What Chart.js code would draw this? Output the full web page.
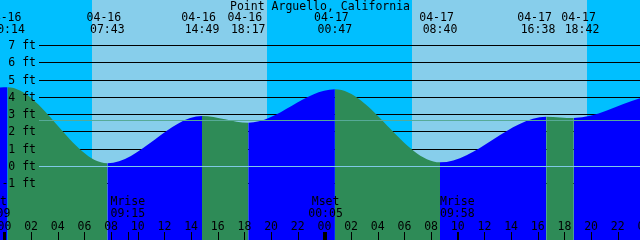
<!DOCTYPE html>
<html>
<head>
<meta charset="utf-8">
<script src="https://cdn.jsdelivr.net/npm/chart.js@4/dist/chart.umd.min.js"></script>
<style>
html,body{margin:0;padding:0;background:#ffffff;overflow:hidden}
#wrap{position:relative;width:640px;height:240px}
canvas{display:block}
</style>
</head>
<body>
<div id="wrap"><canvas id="c" width="640" height="240"></canvas></div>
<script>
// ---------- data ----------
const title = 'Point Arguello, California';

// tide extremes (high / low)
const tideDates   = ['04-16', '04-16', '04-16', '04-16', '04-17', '04-17', '04-17', '04-17'];
const tideTimes   = ['00:14', '07:43', '14:49', '18:17', '00:47', '08:40', '16:38', '18:42'];
const tideHeights = [4.59, 0.19, 2.93, 2.54, 4.48, 0.24, 2.89, 2.81];

// visible time window and the water level at its two edges
const windowDates = ['04-15', '04-17'];
const windowTimes = ['23:40', '23:40'];
const edgeHeights = [4.58, 3.95];

// sun (day shading)
const sunriseDates = ['04-16', '04-17'];
const sunriseTimes = ['06:33', '06:32'];
const sunsetDates  = ['04-16', '04-17'];
const sunsetTimes  = ['19:40', '19:41'];

// moon events
const moonLabels = ['Mset', 'Mrise', 'Mset', 'Mrise'];
const moonDates  = ['04-15', '04-16', '04-17', '04-17'];
const moonTimes  = ['23:09', '09:15', '00:05', '09:58'];

// axis ticks
const hourTickLabels = ['00','02','04','06','08','10','12','14','16','18','20','22',
                        '00','02','04','06','08','10','12','14','16','18','20','22','00'];
const heightTicks = [-1, 0, 1, 2, 3, 4, 5, 6, 7];
const heightUnit = 'ft';
const meanSeaLevel = 2.67;
const datumLevel = 0;

// y range shown (feet)
const yMin = -4.261;
const yMax = 9.652;

// ---------- helpers ----------
function toHours(date, time) {
  const day = parseInt(date.slice(3), 10) - 16;
  const [hh, mm] = time.split(':').map(Number);
  return day * 24 + hh + mm / 60;
}

const xMin = toHours(windowDates[0], windowTimes[0]);
const xMax = toHours(windowDates[1], windowTimes[1]);

const points = [{x: xMin, y: edgeHeights[0]}];
tideTimes.forEach((t, i) => points.push({x: toHours(tideDates[i], t), y: tideHeights[i]}));
points.push({x: xMax, y: edgeHeights[1]});

const COL = {
  night: '#00BFFF',
  day: '#87CEEB',
  flood: '#0000FF',
  ebb: '#2E8B57',
  datum: '#7FC9E6',
  msl: '#56AA97',
  text: '#000000'
};
const FONT = '11.5px "DejaVu Sans Mono", "Liberation Mono", monospace';
const LINE_START = 39;

const tidePlugin = {
  id: 'tidePlugin',
  beforeDatasetsDraw(chart) {
    const ctx = chart.ctx;
    const xs = chart.scales.x, ys = chart.scales.y;
    const W = chart.width, H = chart.height;
    ctx.save();
    ctx.fillStyle = COL.night;
    ctx.fillRect(0, 0, W, H);
    ctx.fillStyle = COL.day;
    for (let i = 0; i < sunriseTimes.length; i++) {
      const a = Math.round(xs.getPixelForValue(toHours(sunriseDates[i], sunriseTimes[i])));
      const b = Math.round(xs.getPixelForValue(toHours(sunsetDates[i], sunsetTimes[i])));
      ctx.fillRect(a, 0, b - a, H);
    }
    ctx.fillStyle = '#000000';
    heightTicks.forEach(v => {
      const row = Math.floor(ys.getPixelForValue(v));
      ctx.fillRect(LINE_START, row, W - LINE_START, 1);
    });
    ctx.restore();
  },
  afterDatasetsDraw(chart) {
    const ctx = chart.ctx;
    const xs = chart.scales.x, ys = chart.scales.y;
    const W = chart.width, H = chart.height;
    ctx.save();
    // datum and mean sea level lines
    ctx.fillStyle = COL.msl;
    ctx.fillRect(LINE_START, Math.floor(ys.getPixelForValue(meanSeaLevel)), W - LINE_START, 1);
    ctx.fillStyle = COL.datum;
    ctx.fillRect(LINE_START, Math.floor(ys.getPixelForValue(datumLevel)), W - LINE_START, 1);

    ctx.font = FONT;
    ctx.fillStyle = COL.text;
    ctx.textBaseline = 'alphabetic';

    // height labels
    ctx.textAlign = 'right';
    heightTicks.forEach(v => {
      const row = Math.floor(ys.getPixelForValue(v));
      ctx.fillText(v + ' ' + heightUnit, 36, row + 4);
    });

    // title
    ctx.textAlign = 'center';
    ctx.fillText(title, W / 2, 10);

    // tide event labels (pushed apart when they would collide)
    const cx = tideTimes.map((t, i) => xs.getPixelForValue(toHours(tideDates[i], t)));
    const minSep = 44;
    for (let i = 0; i < cx.length - 1; i++) {
      const d = cx[i + 1] - cx[i];
      if (d < minSep) {
        const s = (minSep - d) / 2;
        cx[i] -= s;
        cx[i + 1] += s;
      }
    }
    tideTimes.forEach((t, i) => {
      ctx.fillText(tideDates[i] + ' ', cx[i], 21);
      ctx.fillText(t, cx[i], 33);
    });

    // moon events
    moonTimes.forEach((t, i) => {
      const px = xs.getPixelForValue(toHours(moonDates[i], t));
      ctx.fillText(moonLabels[i], px, 205);
      ctx.fillText(t, px, 217);
      ctx.fillRect(Math.round(px), 232, 1, 8);
    });

    // hour ticks and labels
    hourTickLabels.forEach((lab, i) => {
      const h = i * 2;
      const px = xs.getPixelForValue(h);
      ctx.fillText(lab, px, 230);
      if (h % 24 === 0) {
        ctx.fillRect(Math.round(px) - 1, 232, 3, 8);
      } else {
        ctx.fillRect(Math.round(px), 232, 1, 8);
      }
    });
    ctx.restore();
  }
};

new Chart(document.getElementById('c'), {
  type: 'line',
  data: {
    datasets: [{
      data: points,
      parsing: false,
      fill: 'start',
      borderWidth: 0,
      borderColor: 'rgba(0,0,0,0)',
      backgroundColor: COL.flood,
      pointRadius: 0,
      pointHoverRadius: 0,
      cubicInterpolationMode: 'monotone',
      segment: {
        backgroundColor: c => (c.p1.parsed.y >= c.p0.parsed.y ? COL.flood : COL.ebb)
      }
    }]
  },
  options: {
    responsive: false,
    animation: false,
    devicePixelRatio: 1,
    events: [],
    layout: {padding: 0},
    plugins: {legend: {display: false}, tooltip: {enabled: false}, title: {display: false}},
    scales: {
      x: {type: 'linear', min: xMin, max: xMax, display: false},
      y: {type: 'linear', min: yMin, max: yMax, display: false}
    }
  },
  plugins: [tidePlugin]
});
</script>
</body>
</html>
